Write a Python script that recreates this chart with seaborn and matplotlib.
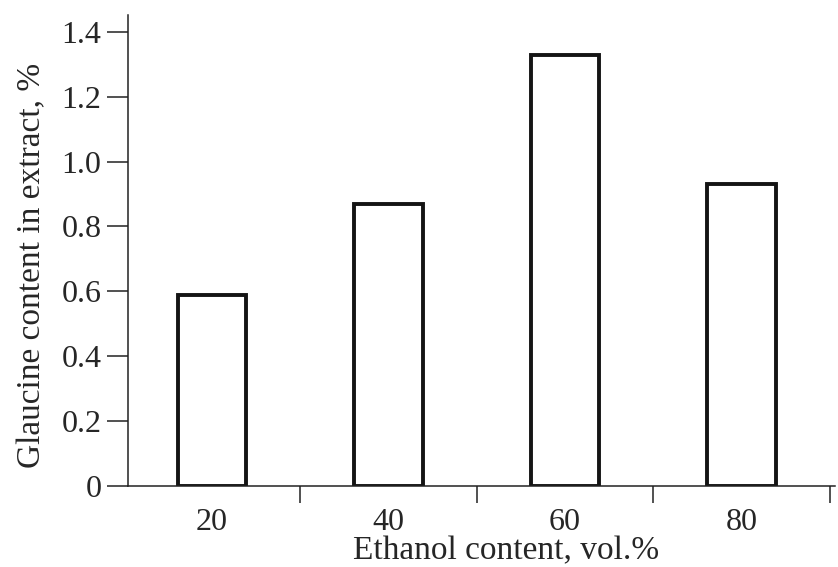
import matplotlib
matplotlib.use("Agg")
import matplotlib.pyplot as plt
import numpy as np
import pandas as pd
import seaborn as sns

# datos
ethanol = ["20", "40", "60", "80"]
glaucine = [0.59, 0.87, 1.33, 0.93]
y_ticks = [0, 0.2, 0.4, 0.6, 0.8, 1.0, 1.2, 1.4]
y_tick_labels = ["0", "0.2", "0.4", "0.6", "0.8", "1.0", "1.2", "1.4"]

sns.set_style("white")
plt.rcParams['font.family'] = ['Liberation Serif', 'DejaVu Serif']

df = pd.DataFrame({'ethanol': ethanol, 'glaucine': glaucine})

W, H = 838, 567
fig = plt.figure(figsize=(W / 100, H / 100), dpi=100)
ax = fig.add_axes([128 / W, 81 / H, (835 - 128) / W, (486 - 15) / H])

sns.barplot(data=df, x='ethanol', y='glaucine', order=ethanol, color='white',
            edgecolor='#141414', linewidth=2.8, width=0.386, ax=ax)

ax.set_xlim(-0.476, 3.53)
ax.set_ylim(0, 1.452)

ax.set_yticks(y_ticks)
ax.set_yticklabels(y_tick_labels)
ax.set_xticks(range(len(ethanol)))
ax.set_xticklabels(ethanol)
ax.set_xticks(np.arange(0.5, len(ethanol), 1.0), minor=True)

txt = '#262626'
ax.tick_params(axis='y', which='major', direction='out', length=15, width=1.1,
               pad=4, labelsize=23, left=True, color='#222222', labelcolor=txt)
ax.tick_params(axis='x', which='major', length=0, pad=15.5, labelsize=23,
               labelcolor=txt)
ax.tick_params(axis='x', which='minor', direction='out', length=12, width=1.1,
               bottom=True, color='#222222')

sns.despine(ax=ax)
for side in ['left', 'bottom']:
    ax.spines[side].set_linewidth(1.1)
    ax.spines[side].set_color('#222222')

ax.set_xlabel('Ethanol content, vol.%', fontsize=24, color=txt)
ax.set_ylabel('Glaucine content in extract, %', fontsize=24, color=txt)
# posiciones de las etiquetas en pixeles de la figura
ax.xaxis.set_label_coords(506 / W, 1 - 535.5 / H, transform=fig.transFigure)
ax.yaxis.set_label_coords(47 / W, 1 - 265 / H, transform=fig.transFigure)

fig.savefig('out.png', dpi=100)
